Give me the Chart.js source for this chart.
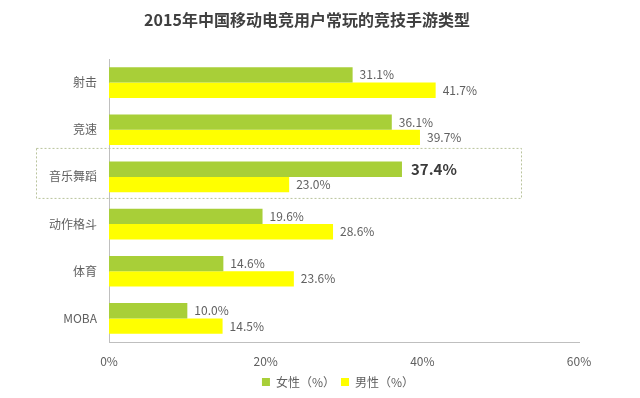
<!DOCTYPE html>
<html>
<head>
<meta charset="utf-8">
<script src="https://cdn.jsdelivr.net/npm/chart.js@4"></script>
<style>
  html, body { margin: 0; padding: 0; background: #ffffff; }
  #wrap { width: 640px; height: 398px; position: relative; }
</style>
</head>
<body>
<div id="wrap"><canvas id="c"></canvas></div>
<script>
const titleText = '2015年中国移动电竞用户常玩的竞技手游类型';
const categories = ['射击', '竞速', '音乐舞蹈', '动作格斗', '体育', 'MOBA'];
const femaleValues = [31.1, 36.1, 37.4, 19.6, 14.6, 10.0];
const maleValues = [41.7, 39.7, 23.0, 28.6, 23.6, 14.5];
const seriesNames = ['女性（%）', '男性（%）'];
const xTicks = [0, 20, 40, 60];
const highlightIndex = 2;

const fontFamily = '"Noto Sans CJK SC", "Noto Sans", sans-serif';

const labelPlugin = {
  id: 'barLabels',
  afterDatasetsDraw(chart) {
    const ctx = chart.ctx;
    ctx.save();
    chart.data.datasets.forEach((ds, di) => {
      const meta = chart.getDatasetMeta(di);
      meta.data.forEach((bar, i) => {
        const v = ds.data[i];
        const bold = (di === 0 && i === highlightIndex);
        ctx.font = (bold ? 'bold 15px ' : '12px ') + fontFamily;
        ctx.fillStyle = bold ? '#3a3a3a' : '#606060';
        ctx.textAlign = 'left';
        ctx.textBaseline = 'middle';
        ctx.fillText(v.toFixed(1) + '%', bar.x + (bold ? 9 : 7), bar.y);
      });
    });
    ctx.restore();
  }
};

const boxPlugin = {
  id: 'highlightBox',
  afterDraw(chart) {
    const y = chart.scales.y;
    const cy = y.getPixelForValue(highlightIndex);
    const ctx = chart.ctx;
    ctx.save();
    ctx.strokeStyle = '#b9c39c';
    ctx.lineWidth = 1;
    ctx.setLineDash([2, 2]);
    ctx.strokeRect(36.5, cy - 28.5, 485, 50);
    ctx.restore();
  }
};

const legendShift = {
  id: 'legendShift',
  afterLayout(chart) {
    if (chart.legend) {
      chart.legend.left += 31;
      chart.legend.right += 31;
    }
  }
};

new Chart(document.getElementById('c'), {
  type: 'bar',
  data: {
    labels: categories,
    datasets: [
      { label: seriesNames[0], data: femaleValues, backgroundColor: '#a8cf38', borderWidth: 0 },
      { label: seriesNames[1], data: maleValues, backgroundColor: '#ffff00', borderWidth: 0 }
    ]
  },
  options: {
    indexAxis: 'y',
    responsive: true,
    maintainAspectRatio: false,
    animation: false,
    devicePixelRatio: 1,
    layout: { padding: { top: 7, right: 61, bottom: 0, left: 35 } },
    datasets: { bar: { categoryPercentage: 0.65, barPercentage: 1.0 } },
    plugins: {
      title: {
        display: true,
        text: titleText,
        color: '#404040',
        font: { family: fontFamily, size: 16, weight: 'bold' },
        padding: { top: 3, bottom: 29.8 }
      },
      legend: {
        position: 'bottom',
        labels: {
          boxWidth: 8,
          boxHeight: 8,
          padding: 6,
          color: '#606060',
          font: { family: fontFamily, size: 12 }
        }
      },
      tooltip: { enabled: false }
    },
    scales: {
      x: {
        min: 0,
        max: 60,
        afterBuildTicks(scale) { scale.ticks = xTicks.map(v => ({ value: v })); },
        afterFit(scale) { scale.height = 28; },
        grid: { display: false, drawTicks: false },
        border: { display: true, color: '#bfbfbf', width: 1 },
        ticks: {
          padding: 12,
          color: '#606060',
          font: { family: fontFamily, size: 12 },
          callback: v => v + '%'
        }
      },
      y: {
        afterFit(scale) { scale.width = 74; },
        grid: { display: false, drawTicks: false },
        border: { display: true, color: '#bfbfbf', width: 1 },
        ticks: {
          padding: 12,
          color: '#606060',
          font: { family: fontFamily, size: 12 }
        }
      }
    }
  },
  plugins: [labelPlugin, boxPlugin, legendShift]
});
</script>
</body>
</html>
